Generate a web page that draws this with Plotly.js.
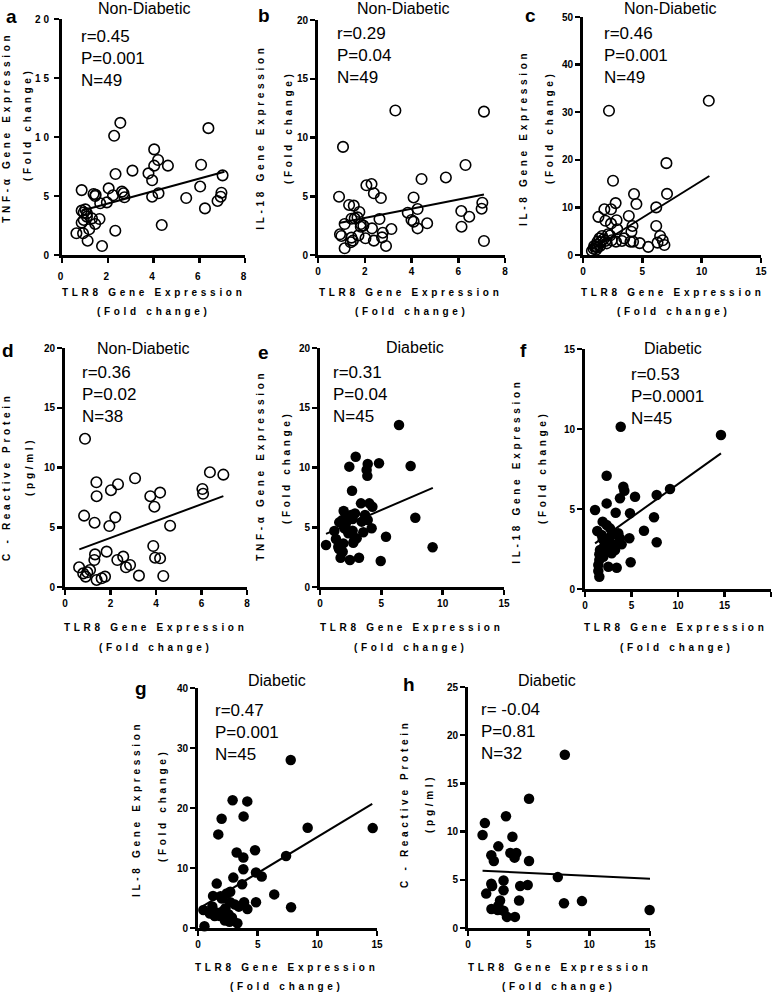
<!DOCTYPE html>
<html>
<head>
<meta charset="utf-8">
<script src="https://cdn.plot.ly/plotly-3.0.1.min.js"></script>
<style>
  html, body { margin: 0; padding: 0; background: #fff; }
  #fig { width: 776px; height: 992px; }
  .xtick text, .ytick text { letter-spacing: 3px; }
  g.xtick { transform: translateY(5px); }
</style>
</head>
<body>
<div id="fig"></div>
<script>
// Correlaciones TLR8 vs citoquinas / PCR, no diabeticos (a-d) y diabeticos (e-h).
// Valores leidos a ojo de la figura original.

// --- a: TNF-a vs TLR8 (no diabeticos) ---
const aX = [2.55,2.28,6.4,4.03,4.2,4.03,4.63,6.08,3.08,3.78,3.94,2.34,7.02,6.04,0.86,2.04,1.38,1.45,2.23,2.62,2.69,4.22,3.94,5.43,6.97,6.94,6.8,6.25,2.73,1.67,1.96,0.86,1.02,1.09,1.31,1.64,0.86,1.45,1.19,4.36,0.63,0.92,2.33,1.12,1.75,1.09,0.95,1.47,0.95];
const aY = [11.2,10.1,10.75,8.95,8.05,7.57,7.57,7.65,7.15,6.92,6.33,6.86,6.75,5.8,5.5,5.65,5.17,5.0,5.06,5.37,5.23,5.23,4.94,4.83,5.28,4.94,4.58,3.95,4.89,4.38,4.46,3.76,3.87,3.25,3.1,3.05,2.74,2.63,2.18,2.54,1.84,1.84,2.06,1.21,0.76,3.53,2.97,5.1,3.6];
const fitAX = [0.85, 7.1];
const fitAY = [3.75, 7.05];

// --- b: IL-18 vs TLR8 (no diabeticos) ---
const bX = [1.07,3.31,7.1,6.31,5.47,4.43,2.07,2.29,2.39,2.69,0.9,4.09,1.33,1.53,7.03,7.0,4.26,3.84,6.13,6.47,1.77,1.69,1.43,2.63,4.0,1.83,1.14,4.09,4.67,4.26,2.31,3.14,6.14,0.94,1.0,1.73,2.77,2.74,2.03,1.43,1.49,2.39,1.4,7.1,1.14,2.91,1.83,1.57,1.94];
const bY = [9.2,12.3,12.2,7.66,6.6,6.47,5.93,6.04,5.25,4.85,4.96,4.9,4.26,4.2,4.45,3.94,3.91,3.6,3.74,3.26,3.66,3.2,3.09,3.06,2.98,2.64,2.64,2.84,2.7,2.27,2.27,2.21,2.41,1.76,1.62,1.67,1.9,1.5,1.42,1.48,1.22,1.22,1.08,1.19,0.57,0.77,2.4,3.12,2.5];
const fitBX = [0.9, 7.1];
const fitBY = [2.72, 5.15];

// --- c: IL-8 vs TLR8 (no diabeticos) ---
const cX = [10.6,2.19,7.03,2.53,4.3,7.08,4.5,2.75,6.17,1.8,2.36,3.86,1.3,2.83,1.89,2.36,4.17,6.17,2.89,4.08,2.11,1.61,1.39,3.47,6.5,6.72,2.42,4.22,4.78,4.0,2.78,6.28,6.86,5.5,1.22,1.5,1.17,1.06,0.89,0.75,1.22,1.89,1.44,1.72,0.94,2.28,3.28,1.11,2.0];
const cY = [32.4,30.3,19.3,15.6,12.8,12.85,10.7,10.9,10.0,9.6,9.6,8.2,8.0,7.3,7.2,6.6,6.1,6.1,5.4,4.9,4.35,4.0,3.5,3.5,4.0,3.1,3.1,2.8,2.5,2.8,2.8,2.6,2.1,1.7,2.8,2.7,2.25,1.7,1.3,0.85,1.6,2.95,1.9,3.3,1.9,4.1,2.95,1.1,2.45];
const fitCX = [0.6, 10.65];
const fitCY = [1.0, 16.6];

// --- d: PCR vs TLR8 (no diabeticos) ---
const dX = [0.88,6.37,6.96,3.08,1.38,2.33,2.02,6.04,6.07,4.18,3.75,1.39,3.93,0.84,2.21,1.3,1.95,4.62,3.88,1.83,1.32,1.29,2.56,2.3,3.96,4.18,2.86,2.68,0.62,1.1,0.98,0.8,0.91,3.25,4.32,1.76,1.61,1.39];
const dY = [12.4,9.6,9.4,9.1,8.76,8.6,8.1,8.2,7.8,7.9,7.6,7.6,6.72,5.97,5.83,5.38,5.1,5.13,3.43,2.96,2.73,2.26,2.54,2.26,2.45,2.4,1.84,1.65,1.65,1.42,1.23,1.14,0.87,0.95,0.92,0.87,0.73,0.59];
const fitDX = [0.63, 6.96];
const fitDY = [3.15, 7.6];

// --- e: TNF-a vs TLR8 (diabeticos) ---
const eX = [6.44,2.91,2.39,3.89,4.81,7.39,3.8,3.86,2.61,3.34,4.02,4.27,1.93,2.53,7.77,1.82,2.26,2.66,1.57,2.09,3.4,3.89,1.98,4.21,3.53,1.17,2.66,5.38,1.3,2.8,1.9,0.49,1.49,2.71,9.18,1.85,1.55,1.68,2.44,3.18,4.95,2.85,2.99,2.31,3.67];
const eY = [13.56,10.9,10.07,10.29,10.35,10.13,9.8,9.3,8.06,7.0,7.0,6.72,6.36,6.02,5.8,5.6,5.75,5.69,5.41,5.24,5.47,5.6,4.91,4.91,4.58,4.69,4.71,4.21,4.02,3.93,3.65,3.51,3.37,3.71,3.32,2.95,3.18,2.45,2.26,2.45,2.18,6.16,4.07,4.49,6.02];
const fitEX = [0.49, 9.2];
const fitEY = [4.45, 8.3];

// --- f: IL-18 vs TLR8 (diabeticos) ---
const fX = [14.62,3.84,2.33,4.12,4.23,9.14,3.76,5.38,7.71,2.33,1.08,3.3,4.84,7.42,1.9,2.69,1.32,3.58,6.34,3.76,4.77,1.9,2.51,7.71,3.04,2.04,2.69,1.61,3.94,2.33,2.87,1.54,1.97,1.54,1.43,4.91,2.51,3.41,1.43,1.54,2.33,2.87,1.8,3.23,2.15];
const fY = [9.62,10.14,7.08,6.39,6.14,6.25,5.67,5.77,5.88,5.35,4.94,4.77,4.73,4.48,4.21,3.79,3.63,3.48,3.64,3.17,3.17,3.12,2.96,2.92,2.79,2.64,2.64,2.44,2.79,2.33,2.23,2.17,2.02,1.81,1.5,1.67,1.39,1.33,1.12,0.77,4.0,3.38,3.38,2.44,2.85];
const fitFX = [1.08, 14.62];
const fitFY = [2.85, 8.48];

// --- g: IL-8 vs TLR8 (diabeticos) ---
const gX = [7.77,2.9,4.13,1.98,3.82,1.7,9.19,14.64,3.24,4.78,3.8,7.38,3.8,2.96,4.86,5.34,1.57,3.7,2.7,6.39,1.26,1.89,2.4,0.45,1.2,1.84,2.12,2.56,2.7,3.42,3.86,4.14,4.86,7.8,0.54,1.4,2.26,2.64,1.54,2.84,2.0,3.1,2.3,1.0,3.3];
const gY = [28.0,21.3,21.1,18.2,18.6,15.6,16.7,16.65,12.57,12.95,11.74,12.0,9.8,8.4,9.24,8.58,7.4,7.3,6.05,5.6,5.35,5.3,5.75,3.0,3.6,2.0,2.86,2.3,4.3,3.56,4.3,3.15,4.3,3.45,0.3,2.0,1.26,1.03,2.6,1.74,4.9,3.9,3.3,2.4,0.8];
const fitGX = [0.45, 14.6];
const fitGY = [3.7, 20.7];

// --- h: PCR vs TLR8 (diabeticos) ---
const hX = [7.98,5.03,3.13,1.39,1.2,3.66,2.5,1.92,3.49,3.98,3.84,2.13,5.03,7.4,1.99,2.93,4.3,4.92,1.5,2.93,2.64,4.21,1.93,2.45,2.93,3.21,3.87,7.91,9.39,14.97,2.5,1.92];
const hY = [17.97,13.4,11.6,10.88,9.64,9.47,8.47,7.54,7.78,7.78,7.3,6.95,6.95,5.28,4.35,4.93,4.35,4.46,3.57,3.92,2.86,2.86,1.97,1.86,1.79,1.15,1.15,2.57,2.79,1.86,2.32,4.6];
const fitHX = [1.2, 15.0];
const fitHY = [5.95, 5.1];

// ticks
const ticks8 = [0, 2, 4, 6, 8];
const ticks15 = [0, 5, 10, 15];
const ticks20 = [0, 5, 10, 15, 20];
const ticks25 = [0, 5, 10, 15, 20, 25];
const ticks40 = [0, 10, 20, 30, 40];
const ticks50 = [0, 10, 20, 30, 40, 50];

// textos
const letras = ["a", "b", "c", "d", "e", "f", "g", "h"];
const grupos = ["Non-Diabetic", "Non-Diabetic", "Non-Diabetic", "Non-Diabetic", "Diabetic", "Diabetic", "Diabetic", "Diabetic"];
const estadisticos = [
  ["r=0.45", "P=0.001", "N=49"],
  ["r=0.29", "P=0.04", "N=49"],
  ["r=0.46", "P=0.001", "N=49"],
  ["r=0.36", "P=0.02", "N=38"],
  ["r=0.31", "P=0.04", "N=45"],
  ["r=0.53", "P=0.0001", "N=45"],
  ["r=0.47", "P=0.001", "N=45"],
  ["r= -0.04", "P=0.81", "N=32"],
];
const yTitulos = [
  ["TNF-α Gene Expression", "(Fold change)"],
  ["IL-18 Gene Expression", "(Fold change)"],
  ["IL-8 Gene Expression", "(Fold change)"],
  ["C - Reactive Protein", "(pg/ml)"],
  ["TNF-α Gene Expression", "(Fold change)"],
  ["IL-18 Gene Expression", "(Fold change)"],
  ["IL-8 Gene Expression", "(Fold change)"],
  ["C - Reactive Protein", "(pg/ml)"],
];
const xTitulo = ["TLR8 Gene Expression", "(Fold change)"];

const paneles = [
  { x: aX, y: aY, fx: fitAX, fy: fitAY, abierto: true,  xt: ticks8,  yt: ticks20 },
  { x: bX, y: bY, fx: fitBX, fy: fitBY, abierto: true,  xt: ticks8,  yt: ticks20 },
  { x: cX, y: cY, fx: fitCX, fy: fitCY, abierto: true,  xt: ticks15, yt: ticks50 },
  { x: dX, y: dY, fx: fitDX, fy: fitDY, abierto: true,  xt: ticks8,  yt: ticks20 },
  { x: eX, y: eY, fx: fitEX, fy: fitEY, abierto: false, xt: ticks15, yt: ticks20 },
  { x: fX, y: fY, fx: fitFX, fy: fitFY, abierto: false, xt: ticks20, yt: ticks15 },
  { x: gX, y: gY, fx: fitGX, fy: fitGY, abierto: false, xt: ticks15, yt: ticks40 },
  { x: hX, y: hY, fx: fitHX, fy: fitHY, abierto: false, xt: ticks15, yt: ticks25 },
];

// geometria en pixeles de la figura (776x992): caja = [x0, x1, yCero, yTope]
const geo = [
  { caja: [62, 245, 255, 19],  letra: [11, 17],   titulo: [144, 9],   stats: [79, 58],   yt: [[6, 128], [27, 124]],   xt: [[153, 292], [154, 311]] },
  { caja: [318, 505, 255, 20], letra: [264, 16],  titulo: [403, 9],   stats: [335, 56],  yt: [[261, 137], [288, 127]], xt: [[410, 292], [412, 311]] },
  { caja: [583, 761, 255, 17], letra: [530, 16],  titulo: [670, 9],   stats: [602, 56],  yt: [[523, 138], [549, 127]], xt: [[672, 292], [674, 311]] },
  { caja: [65, 247, 587, 348], letra: [8, 351],   titulo: [143, 348], stats: [80, 394],  yt: [[6, 477], [30, 467]],    xt: [[155, 627], [156, 647]] },
  { caja: [320, 504, 587, 348], letra: [263, 352], titulo: [415, 347], stats: [331, 394], yt: [[260, 466], [287, 467]], xt: [[411, 627], [411, 647]] },
  { caja: [585, 771, 589, 349], letra: [523, 351], titulo: [673, 348], stats: [629, 396], yt: [[516, 471], [543, 467]], xt: [[675, 627], [677, 647]] },
  { caja: [198, 377, 928, 688], letra: [141, 688], titulo: [277, 680], stats: [213, 732], yt: [[136, 809], [162, 805]], xt: [[286, 967], [287, 986]] },
  { caja: [468, 650, 928, 687], letra: [409, 684], titulo: [547, 680], stats: [479, 731], yt: [[404, 804], [429, 804]], xt: [[559, 967], [559, 986]] },
];

const W = 776, H = 992;
const FONT = "Liberation Sans, Arial, Helvetica, sans-serif";
const px = (v) => v / W;
const py = (v) => 1 - v / H;

const traces = [];
const layout = {
  width: W, height: H,
  margin: { l: 0, r: 0, t: 0, b: 0 },
  paper_bgcolor: "#fff", plot_bgcolor: "rgba(0,0,0,0)",
  showlegend: false,
  font: { family: FONT, color: "#000" },
  annotations: [],
};
const espaciados = new Set();

function eje(dom, rango, ticks, ancla) {
  return {
    domain: dom, range: rango, anchor: ancla,
    showline: true, linewidth: 3, linecolor: "#000",
    ticks: "outside", ticklen: 5, tickwidth: 2.5, tickcolor: "#000",
    tickmode: "array", tickvals: ticks, ticktext: ticks.map(String),
    tickfont: { family: FONT, size: 10, color: "#000", weight: "bold" },
    tickangle: 0, showgrid: false, zeroline: false, fixedrange: true,
  };
}

function nota(texto, x, y, extra) {
  layout.annotations.push(Object.assign({
    text: texto, xref: "paper", yref: "paper", x: px(x), y: py(y),
    xanchor: "center", yanchor: "middle", showarrow: false,
  }, extra));
}

paneles.forEach((p, i) => {
  const s = i === 0 ? "" : String(i + 1);
  const g = geo[i];
  const [x0, x1, y0, y1] = g.caja;

  traces.push({
    type: "scatter", mode: "markers", x: p.x, y: p.y,
    xaxis: "x" + s, yaxis: "y" + s, cliponaxis: false, hoverinfo: "skip",
    marker: p.abierto
      ? { symbol: "circle-open", size: 10.5, color: "#000", line: { width: 1.6 } }
      : { symbol: "circle", size: 10.5, color: "#000", line: { width: 0 } },
  });
  traces.push({
    type: "scatter", mode: "lines", x: p.fx, y: p.fy,
    xaxis: "x" + s, yaxis: "y" + s, cliponaxis: false, hoverinfo: "skip",
    line: { color: "#000", width: 2 },
  });

  layout["xaxis" + s] = eje([px(x0), px(x1)], [0, p.xt[p.xt.length - 1]], p.xt, "y" + s);
  layout["yaxis" + s] = eje([py(y0), py(y1)], [0, p.yt[p.yt.length - 1]], p.yt, "x" + s);

  nota(letras[i], g.letra[0], g.letra[1], { font: { size: 19, weight: "bold" } });
  nota(grupos[i], g.titulo[0], g.titulo[1], { font: { size: 16 } });
  nota(estadisticos[i].join("<br>"), g.stats[0], g.stats[1], { xanchor: "left", align: "left", font: { size: 17 } });

  yTitulos[i].forEach((t, k) => {
    nota(t, g.yt[k][0], g.yt[k][1], { textangle: -90, font: { size: 10, weight: "bold" } });
    espaciados.add(t);
  });
  xTitulo.forEach((t, k) => {
    nota(t, g.xt[k][0], g.xt[k][1], { font: { size: 10, weight: "bold" } });
    espaciados.add(t);
  });
});

Plotly.newPlot("fig", traces, layout, { staticPlot: true, displayModeBar: false }).then(() => {
  // los titulos de eje van con mucho espaciado entre letras, como en el original
  document.querySelectorAll(".annotation-text").forEach((t) => {
    if (espaciados.has(t.textContent)) t.style.letterSpacing = "3.7px";
  });
});
</script>
</body>
</html>
